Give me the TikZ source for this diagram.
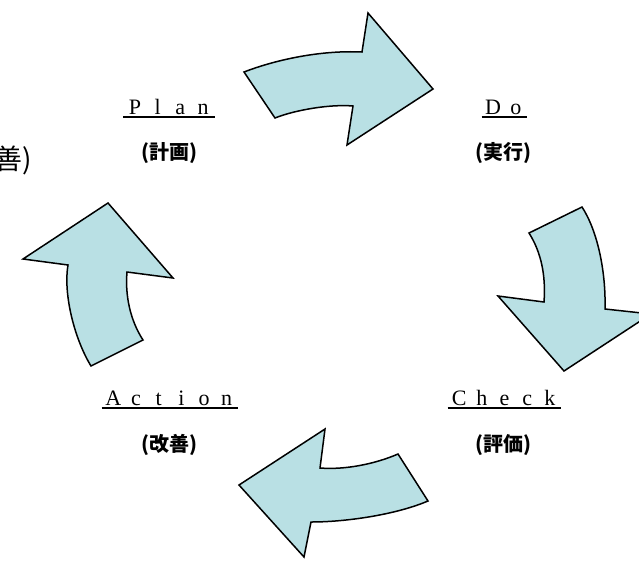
\documentclass[tikz,border=0pt]{standalone}
\usepackage{fontspec}
\setmainfont{Liberation Serif}
\newfontfamily\jp{Noto Sans CJK JP}
\definecolor{cyclefill}{RGB}{185,224,228}
\newcommand\fw[1]{\makebox[22.7pt]{#1}}

\begin{document}
\begin{tikzpicture}[x=1pt,y=-1pt,line join=miter]

  \tikzstyle{bigarrow}=[draw=black,fill=cyclefill,line width=1.5pt]
  \tikzstyle{word}=[inner sep=0pt,anchor=base,font=\fontsize{22}{22}\selectfont]
  \tikzstyle{kanji}=[inner sep=0pt,font=\jp\bfseries\fontsize{20}{20}\selectfont]
  \tikzstyle{uline}=[line width=1.8pt]

  \useasboundingbox (0,0) rectangle (639,560);
  \clip (0,0) rectangle (639,560);

  \node[word] (plan)   at (169,114) {\fw{P}\fw{l}\fw{a}\fw{n}};
  \node[word] (do)     at (504.5,114) {\fw{D}\fw{o}};
  \node[word] (check)  at (504.5,405) {\fw{C}\fw{h}\fw{e}\fw{c}\fw{k}};
  \node[word] (action) at (170,405) {\fw{A}\fw{c}\fw{t}\fw{i}\fw{o}\fw{n}};

  \node[kanji] (plansub)   at (169,153) {(計画)};
  \node[kanji] (dosub)     at (503,153) {(実行)};
  \node[kanji] (checksub)  at (503,445) {(評価)};
  \node[kanji] (actionsub) at (169,445) {(改善)};

  \node[inner sep=0pt,anchor=east,font=\jp\fontsize{28}{28}\selectfont]
    (actioncut) at (32,160) {(改善)};

  \foreach \n in {plan,do,check,action}
    \draw[uline] ([yshift=-3pt]\n.base west) -- ([yshift=-3pt]\n.base east);

  % plan -> do
  \draw[bigarrow] (244,72) .. controls (275,60) and (320,50) .. (362,52)
    -- (368,13) -- (433,89) -- (347,145) -- (353,106)
    .. controls (330,104) and (295,110) .. (275,118) -- cycle;

  % do -> check
  \draw[bigarrow] (582,207) .. controls (597,230) and (606,270) .. (605,309)
    -- (651,314) -- (564,371) -- (498,296) -- (544,302)
    .. controls (546,275) and (541,252) .. (529,233) -- cycle;

  % check -> action
  \draw[bigarrow] (398,454) .. controls (375,464) and (345,470) .. (320,468)
    -- (325,429) -- (239,485) -- (304,557) -- (311,522)
    .. controls (345,522) and (395,515) .. (428,501) -- cycle;

  % action -> plan
  \draw[bigarrow] (91,366) .. controls (75,340) and (63,295) .. (68,265)
    -- (23,259) -- (108,203) -- (173,278) -- (127,272)
    .. controls (125,295) and (130,320) .. (143,340) -- cycle;

\end{tikzpicture}
\end{document}
